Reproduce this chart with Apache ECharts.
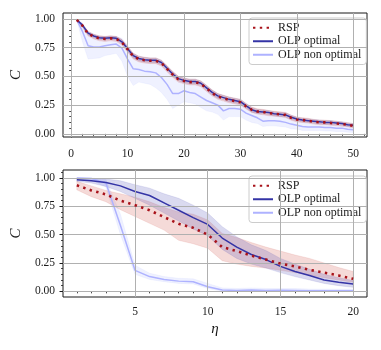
<!DOCTYPE html>
<html><head><meta charset="utf-8">
<script src="https://cdn.jsdelivr.net/npm/echarts@6/dist/echarts.min.js"></script>
<style>html,body{margin:0;padding:0;background:#fff}#c{width:381px;height:350px}</style>
</head><body><div id="c"></div>
<script>
// ---------- data: top panel ----------
const etaTop = [1,2,3,4,5,6,7,8,9,10,11,12,13,14,15,16,17,18,19,20,21,22,23,24,25,26,27,28,29,30,31,32,33,34,35,36,37,38,39,40,41,42,43,44,45,46,47,48,49,50];
const rspTop = [0.99,0.94,0.87,0.845,0.83,0.825,0.83,0.825,0.795,0.735,
  0.675,0.65,0.64,0.635,0.635,0.615,0.565,0.515,0.475,0.46,
  0.45,0.45,0.435,0.395,0.355,0.325,0.31,0.295,0.285,0.275,
  0.24,0.21,0.195,0.19,0.18,0.175,0.17,0.165,0.14,0.125,
  0.12,0.115,0.105,0.10,0.10,0.095,0.09,0.085,0.08,0.07];
const rspTopSpread = [0.005,0.015,0.02,0.02,0.022,0.022,0.022,0.022,0.024,0.025,
  0.025,0.025,0.025,0.025,0.025,0.025,0.026,0.026,0.025,0.025,
  0.025,0.025,0.025,0.026,0.026,0.025,0.025,0.025,0.025,0.025,
  0.024,0.024,0.023,0.023,0.023,0.022,0.022,0.022,0.022,0.021,
  0.021,0.021,0.02,0.02,0.02,0.02,0.02,0.019,0.019,0.019];
const optTop = [0.99,0.945,0.875,0.85,0.835,0.83,0.835,0.83,0.80,0.74,
  0.68,0.655,0.645,0.64,0.64,0.62,0.57,0.52,0.48,0.465,
  0.455,0.455,0.44,0.40,0.36,0.33,0.315,0.30,0.29,0.28,
  0.245,0.21,0.195,0.19,0.185,0.175,0.17,0.165,0.145,0.13,
  0.12,0.115,0.11,0.105,0.10,0.10,0.095,0.09,0.08,0.075];
const optTopSpread = [0.004,0.012,0.015,0.015,0.015,0.015,0.015,0.015,0.018,0.02,
  0.02,0.02,0.02,0.02,0.02,0.02,0.022,0.022,0.02,0.02,
  0.02,0.02,0.02,0.022,0.022,0.02,0.02,0.02,0.02,0.02,
  0.02,0.02,0.018,0.018,0.018,0.018,0.018,0.018,0.018,0.016,
  0.016,0.016,0.016,0.016,0.016,0.016,0.015,0.015,0.015,0.015];
const nonTop = [0.99,0.89,0.765,0.755,0.755,0.765,0.775,0.78,0.745,0.65,
  0.565,0.56,0.545,0.54,0.53,0.49,0.43,0.35,0.35,0.375,
  0.36,0.35,0.32,0.29,0.27,0.25,0.20,0.22,0.22,0.215,
  0.18,0.16,0.14,0.11,0.115,0.115,0.11,0.10,0.085,0.075,
  0.065,0.06,0.06,0.06,0.055,0.055,0.05,0.05,0.04,0.035];
const nonTopLow = [0.99,0.80,0.65,0.655,0.66,0.68,0.69,0.70,0.63,0.50,
  0.42,0.45,0.44,0.43,0.40,0.36,0.30,0.22,0.25,0.28,
  0.27,0.26,0.23,0.20,0.19,0.17,0.12,0.15,0.15,0.15,
  0.12,0.10,0.09,0.065,0.07,0.07,0.065,0.06,0.045,0.04,
  0.03,0.03,0.03,0.03,0.025,0.025,0.02,0.02,0.015,0.012];
const nonTopHigh = [1.0,0.96,0.87,0.845,0.84,0.84,0.845,0.845,0.83,0.77,
  0.69,0.66,0.645,0.64,0.63,0.60,0.54,0.48,0.45,0.46,
  0.45,0.44,0.41,0.38,0.35,0.32,0.28,0.29,0.29,0.28,
  0.24,0.21,0.19,0.16,0.16,0.16,0.155,0.14,0.125,0.11,
  0.10,0.095,0.09,0.09,0.085,0.08,0.075,0.07,0.065,0.055];

// ---------- data: bottom panel ----------
const etaBot = [1,2,3,4,5,6,7,8,9,10,11,12,13,14,15,16,17,18,19,20];
const rspBot     = [0.935,0.89,0.855,0.80,0.76,0.715,0.655,0.595,0.56,0.50,0.39,0.355,0.315,0.28,0.245,0.22,0.19,0.165,0.14,0.11];
const rspBotLow  = [0.895,0.835,0.79,0.72,0.66,0.60,0.54,0.45,0.42,0.38,0.27,0.24,0.22,0.205,0.185,0.165,0.145,0.12,0.10,0.08];
const rspBotHigh = [0.97,0.93,0.89,0.86,0.83,0.79,0.74,0.70,0.68,0.63,0.51,0.475,0.43,0.39,0.355,0.32,0.29,0.25,0.21,0.175];
const optBot     = [0.985,0.975,0.96,0.93,0.88,0.845,0.78,0.715,0.65,0.59,0.47,0.39,0.325,0.28,0.22,0.175,0.14,0.10,0.08,0.065];
const optBotLow  = [0.97,0.955,0.925,0.88,0.82,0.76,0.69,0.62,0.55,0.49,0.37,0.29,0.24,0.205,0.165,0.13,0.10,0.07,0.05,0.035];
const optBotHigh = [1.0,0.995,0.99,0.975,0.94,0.91,0.86,0.82,0.76,0.69,0.57,0.48,0.41,0.36,0.29,0.24,0.195,0.15,0.12,0.095];
const nonBot     = [1.0,0.995,0.955,0.58,0.185,0.13,0.105,0.09,0.085,0.04,0.012,0.008,0.012,0.008,0.01,0.008,0.006,0.005,0.005,0.005];
const nonBotLow  = [0.99,0.98,0.92,0.50,0.15,0.105,0.085,0.07,0.065,0.025,0.0,0.0,0.0,0.0,0.0,0.0,0.0,0.0,0.0,0.0];
const nonBotHigh = [1.0,1.0,0.985,0.68,0.23,0.16,0.13,0.115,0.11,0.07,0.03,0.025,0.03,0.025,0.025,0.025,0.02,0.02,0.02,0.02];

// ---------- ticks ----------
const topXMajor = [0,10,20,30,40,50];
const topXMinor = [2,4,6,8,12,14,16,18,22,24,26,28,32,34,36,38,42,44,46,48,52];
const botXMajor = [5,10,15,20];
const botXMinor = [1,2,3,4,6,7,8,9,11,12,13,14,16,17,18,19];
const yMajor = [0,0.25,0.5,0.75,1.0];
const topYMinor = [0.05,0.1,0.15,0.2,0.3,0.35,0.4,0.45,0.55,0.6,0.65,0.7,0.8,0.85,0.9,0.95];
const botYMinor = [0.05,0.1,0.15,0.2,0.3,0.35,0.4,0.45,0.55,0.6,0.65,0.7,0.8,0.85,0.9,0.95,1.05];
const legendNames = ['RSP','OLP optimal','OLP non optimal'];

// ---------- styling ----------
const FONT = 'Liberation Serif';
const TXT = '#1a1a1a';
const C_RSP = '#a8121a', C_OPT = '#3434a6', C_NON = '#aeb2ff';
const B_RSP = 'rgba(205,70,60,0.20)', B_OPT = 'rgba(70,70,180,0.20)', B_NON = 'rgba(150,160,255,0.15)';

function pairs(xs, ys){ return xs.map((x,i)=>[x, ys[i]]); }
function sub(a,b){ return a.map((v,i)=>v-b[i]); }
function add(a,b){ return a.map((v,i)=>v+b[i]); }

function band(name, xs, lo, hi, color, ai){
  return {
    type:'custom', name, xAxisIndex:ai, yAxisIndex:ai, silent:true, z:1, clip:true,
    data: xs.map((x,i)=>[x, lo[i], hi[i]]),
    encode:{x:0, y:[1,2]},
    renderItem:(params, api)=>{
      if (params.dataIndexInside !== 0) return null;
      const n = params.dataInsideLength, up = [], dn = [];
      for (let i=0;i<n;i++){
        up.push(api.coord([api.value(0,i), api.value(2,i)]));
        dn.push(api.coord([api.value(0,i), api.value(1,i)]));
      }
      return {type:'polygon', shape:{points: up.concat(dn.reverse())}, style:{fill:color, stroke:color, lineWidth:0.6}};
    }
  };
}
function line(name, xs, ys, color, ai, dotted, z){
  return {
    type:'line', name, xAxisIndex:ai, yAxisIndex:ai, data:pairs(xs,ys), symbol:'none', z,
    lineStyle:{color, width: dotted?2.6:1.5, type: dotted?[2.4,4.4]:'solid', cap:'butt'},
    itemStyle:{color}, silent:true
  };
}
function grid(ai, xTicks){
  return {
    type:'line', name:'grid'+ai, xAxisIndex:ai, yAxisIndex:ai, data:[], z:2, silent:true,
    markLine:{silent:true, symbol:['none','none'], label:{show:false}, animation:false,
      lineStyle:{color:'#b0b0b0', width:1, type:'solid'},
      emphasis:{disabled:true},
      data: xTicks.map(v=>({xAxis:v})).concat(yMajor.map(v=>({yAxis:v})))}
  };
}
function xAxes(gi, min, max, major, minor, withName, margin){
  const base = {gridIndex:gi, type:'value', min, max, position:'bottom',
    axisLine:{show:false}, splitLine:{show:false}};
  return [
    Object.assign({}, base, {
      axisTick:{show:true, customValues:major, length:3.5, lineStyle:{color:TXT, width:1}},
      axisLabel:{show:true, customValues:major, margin, fontFamily:FONT, fontSize:11.5, color:TXT, formatter:v=>String(v)},
      name: withName ? 'η' : '', nameLocation:'middle', nameGap:25,
      nameTextStyle:{fontFamily:FONT, fontStyle:'italic', fontSize:15, color:TXT}
    }),
    Object.assign({}, base, {
      axisTick:{show:true, customValues:minor, length:2, lineStyle:{color:TXT, width:0.8}},
      axisLabel:{show:false}
    })
  ];
}
function yAxes(gi, min, max, minor){
  const base = {gridIndex:gi, type:'value', min, max, position:'left',
    axisLine:{show:false}, splitLine:{show:false}};
  return [
    Object.assign({}, base, {
      axisTick:{show:true, customValues:yMajor, length:3.5, lineStyle:{color:TXT, width:1}},
      axisLabel:{show:true, customValues:yMajor, margin:8, fontFamily:FONT, fontSize:11.5, color:TXT, formatter:v=>v.toFixed(2)},
      name:'C', nameLocation:'middle', nameGap:29, nameRotate:90,
      nameTextStyle:{fontFamily:FONT, fontStyle:'italic', fontSize:15, color:TXT}
    }),
    Object.assign({}, base, {
      axisTick:{show:true, customValues:minor, length:2, lineStyle:{color:TXT, width:0.8}},
      axisLabel:{show:false}
    })
  ];
}
function legend(top){
  return {data:legendNames, orient:'vertical', left:249, top, itemWidth:20, itemHeight:10, itemGap:0,
    padding:[3,5,3,3], backgroundColor:'rgba(255,255,255,0.8)', borderColor:'#cccccc', borderWidth:1, borderRadius:3,
    itemStyle:{opacity:0, borderWidth:0},
    selectedMode:false, textStyle:{fontFamily:FONT, fontSize:12, color:TXT, lineHeight:13.5}};
}

const chart = echarts.init(document.getElementById('c'), null, {renderer:'canvas'});
const xs = xAxes(0, -1.45, 52.45, topXMajor, topXMinor, false, 11).concat(xAxes(1, 0.05, 20.95, botXMajor, botXMinor, true, 9));
const ys = yAxes(0, -0.027, 1.05, topYMinor).concat(yAxes(1, -0.05, 1.07, botYMinor));
// axis index 0/1 -> top grid, 2/3 -> bottom grid; data series use 0 and 2
const series = [
  band('bNonT', etaTop, nonTopLow, nonTopHigh, B_NON, 0),
  band('bOptT', etaTop, sub(optTop,optTopSpread), add(optTop,optTopSpread), B_OPT, 0),
  band('bRspT', etaTop, sub(rspTop,rspTopSpread), add(rspTop,rspTopSpread), B_RSP, 0),
  grid(0, topXMajor),
  line('OLP non optimal', etaTop, nonTop, C_NON, 0, false, 3),
  line('OLP optimal', etaTop, optTop, C_OPT, 0, false, 4),
  line('RSP', etaTop, rspTop, C_RSP, 0, true, 5),

  band('bNonB', etaBot, nonBotLow, nonBotHigh, B_NON, 2),
  band('bRspB', etaBot, rspBotLow, rspBotHigh, B_RSP, 2),
  band('bOptB', etaBot, optBotLow, optBotHigh, B_OPT, 2),
  grid(2, botXMajor),
  line('OLP non optimal', etaBot, nonBot, C_NON, 2, false, 3),
  line('OLP optimal', etaBot, optBot, C_OPT, 2, false, 4),
  line('RSP', etaBot, rspBot, C_RSP, 2, true, 5)
];
chart.setOption({
  animation:false,
  backgroundColor:'#ffffff',
  textStyle:{fontFamily:FONT},
  grid:[
    {left:63, top:13, width:304, height:124, show:true, borderColor:'#1a1a1a', borderWidth:1, backgroundColor:'transparent'},
    {left:63, top:170, width:304, height:127, show:true, borderColor:'#1a1a1a', borderWidth:1, backgroundColor:'transparent'}
  ],
  legend:[legend(18), legend(176)],
  xAxis: xs,
  yAxis: ys,
  series
});
</script></body></html>
